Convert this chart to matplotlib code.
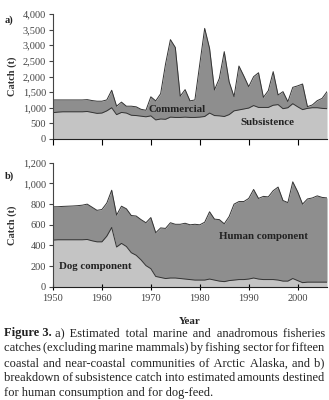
import numpy as np
import matplotlib
matplotlib.use("Agg")
import matplotlib.pyplot as plt
from matplotlib.ticker import FuncFormatter

plt.rcParams['font.family'] = ['Liberation Serif', 'DejaVu Serif']

years = list(range(1950, 2007))

# panel a) total catch (top of the commercial band) and subsistence
total_a = [1250, 1250, 1250, 1250, 1250, 1250, 1250, 1260, 1230, 1210,
           1210, 1250, 1560, 1050, 1180, 1050, 1050, 1030, 950, 920,
           1350, 1220, 1450, 2400, 3180, 2930, 1370, 1580, 1220, 1250,
           2400, 3540, 2900, 1570, 1940, 2795, 1830, 1355, 2336, 2016,
           1675, 1995, 2120, 1333, 1547, 2155, 1408, 1515, 1195, 1653,
           1700, 1760, 1035, 1090, 1227, 1300, 1515]
subsistence_a = [843, 860, 870, 870, 870, 870, 870, 880, 850, 820,
                 830, 900, 1000, 780, 850, 830, 760, 750, 730, 710,
                 740, 610, 640, 630, 700, 690, 690, 700, 690, 690,
                 700, 720, 830, 750, 740, 720, 780, 900, 930, 960,
                 990, 1070, 1010, 1010, 1010, 1080, 1100, 970, 1000, 1130,
                 1030, 940, 980, 1000, 1000, 980, 970]

# panel b) subsistence split into human and dog components
total_b = [774, 775, 778, 780, 782, 785, 790, 800, 770, 740,
           748, 810, 935, 694, 780, 755, 690, 685, 650, 620,
           670, 523, 570, 565, 620, 605, 605, 615, 600, 605,
           600, 625, 726, 655, 650, 610, 680, 800, 825, 825,
           855, 942, 855, 875, 870, 930, 965, 835, 815, 1016,
           920, 800, 850, 860, 880, 865, 860]
dog_b = [452, 455, 455, 455, 455, 455, 455, 458, 445, 435,
         435, 490, 574, 385, 420, 390, 330, 305, 260, 205,
         175, 100, 90, 80, 85, 85, 80, 75, 70, 65,
         65, 65, 75, 65, 55, 50, 60, 65, 70, 70,
         75, 85, 75, 70, 70, 70, 65, 55, 55, 80,
         60, 40, 45, 45, 45, 45, 45]

caption_head = "Figure 3."
caption_lines = [
    "a) Estimated total marine and anadromous fisheries",
    "catches (excluding marine mammals) by fishing sector for fifteen",
    "coastal and near-coastal communities of Arctic Alaska, and b)",
    "breakdown of subsistence catch into estimated amounts destined",
    "for human consumption and for dog-feed.",
]

dark = "#8e8e8e"
light = "#c4c4c4"
edge = "#333333"
ink = "#222222"
thousands = FuncFormatter(lambda v, p: f"{int(v):,}")

fig = plt.figure(figsize=(3.29, 4.0), dpi=100)
ax_a = fig.add_axes([0.161, 0.6525, 0.833, 0.3125])
ax_b = fig.add_axes([0.161, 0.283, 0.833, 0.31])


def style_axes(ax, ymax, ystep):
    ax.set_xlim(1950, 2006)
    ax.set_ylim(0, ymax)
    ax.set_yticks(np.arange(0, ymax + 1, ystep))
    ax.yaxis.set_major_formatter(thousands)
    ax.set_xticks([1950, 1960, 1970, 1980, 1990, 2000])
    for s in ["top", "right"]:
        ax.spines[s].set_visible(False)
    ax.spines["left"].set_color("#444444")
    ax.spines["bottom"].set_color("#222222")
    ax.tick_params(axis="y", direction="out", length=3, labelsize=7.5,
                   colors="#444444", labelcolor="#444444", pad=2)
    ax.tick_params(axis="x", direction="inout", length=5, labelsize=7.5,
                   labelcolor="#444444", pad=3)
    ax.set_ylabel("Catch (t)", fontsize=7.5, fontweight="bold",
                  color="#333333", labelpad=4)


# a)
ax_a.fill_between(years, 0, subsistence_a, color=light, lw=0)
ax_a.fill_between(years, subsistence_a, total_a, color=dark, lw=0)
ax_a.plot(years, total_a, color=edge, lw=0.7)
ax_a.plot(years, subsistence_a, color=edge, lw=0.7)
style_axes(ax_a, 4000, 500)
ax_a.tick_params(axis="x", labelbottom=False, direction="out", length=4)
ax_a.text(1975.3, 960, "Commercial", fontsize=7.8, fontweight="bold",
          ha="center", va="center", color=ink)
ax_a.text(1993.8, 540, "Subsistence", fontsize=7.8, fontweight="bold",
          ha="center", va="center", color=ink)
fig.text(0.015, 0.943, "a)", fontsize=7.5, fontweight="bold", color=ink)

# b)
ax_b.fill_between(years, 0, dog_b, color=light, lw=0)
ax_b.fill_between(years, dog_b, total_b, color=dark, lw=0)
ax_b.plot(years, total_b, color=edge, lw=0.7)
ax_b.plot(years, dog_b, color=edge, lw=0.7)
style_axes(ax_b, 1200, 200)
ax_b.text(1993, 484, "Human component", fontsize=7.8, fontweight="bold",
          ha="center", va="center", color=ink)
ax_b.text(1958.6, 200, "Dog component", fontsize=7.8, fontweight="bold",
          ha="center", va="center", color=ink)
ax_b.set_xlabel("Year", fontsize=7.8, fontweight="bold", color=ink,
                labelpad=10)
fig.text(0.015, 0.553, "b)", fontsize=7.5, fontweight="bold", color=ink)

# caption: one text per line, justified by building the gaps from small spaces
fs = 9
x0, x1 = 4, 325
W, H = fig.get_size_inches() * fig.dpi
renderer = fig.canvas.get_renderer()


def width_of(s, weight="normal"):
    t = fig.text(0, 0, s, fontsize=fs, fontweight=weight)
    w = t.get_window_extent(renderer).width
    t.remove()
    return w


unit = " "
for ch in ["\u200a", "\u2009", " "]:
    uw = (width_of("a" + ch * 10 + "b") - width_of("ab")) / 10
    if 0.5 <= uw <= 3.5:
        unit = ch
        break


def padded(words, n_units):
    out = words[0]
    done = 0
    n_gaps = len(words) - 1
    for g in range(n_gaps):
        target = int(round(n_units * (g + 1) / n_gaps))
        out += unit * (target - done) + words[g + 1]
        done = target
    return out


space_w = width_of("a b") - width_of("ab")

for i, line in enumerate(caption_lines):
    y = (H - 336 - 15 * i) / H
    start = x0
    if i == 0:
        fig.text(x0 / W, y, caption_head, fontsize=fs, fontweight="bold",
                 color=ink, va="baseline")
        start = x0 + width_of(caption_head, "bold") + space_w
    words = line.split()
    if i < len(caption_lines) - 1:
        room = x1 - start
        n = len(words) - 1
        while width_of(padded(words, n + 1)) <= room and n < 600:
            n += 1
        line = padded(words, n)
    fig.text(start / W, y, line, fontsize=fs, color=ink, va="baseline")

fig.savefig("out.png", dpi=100, facecolor="white")
